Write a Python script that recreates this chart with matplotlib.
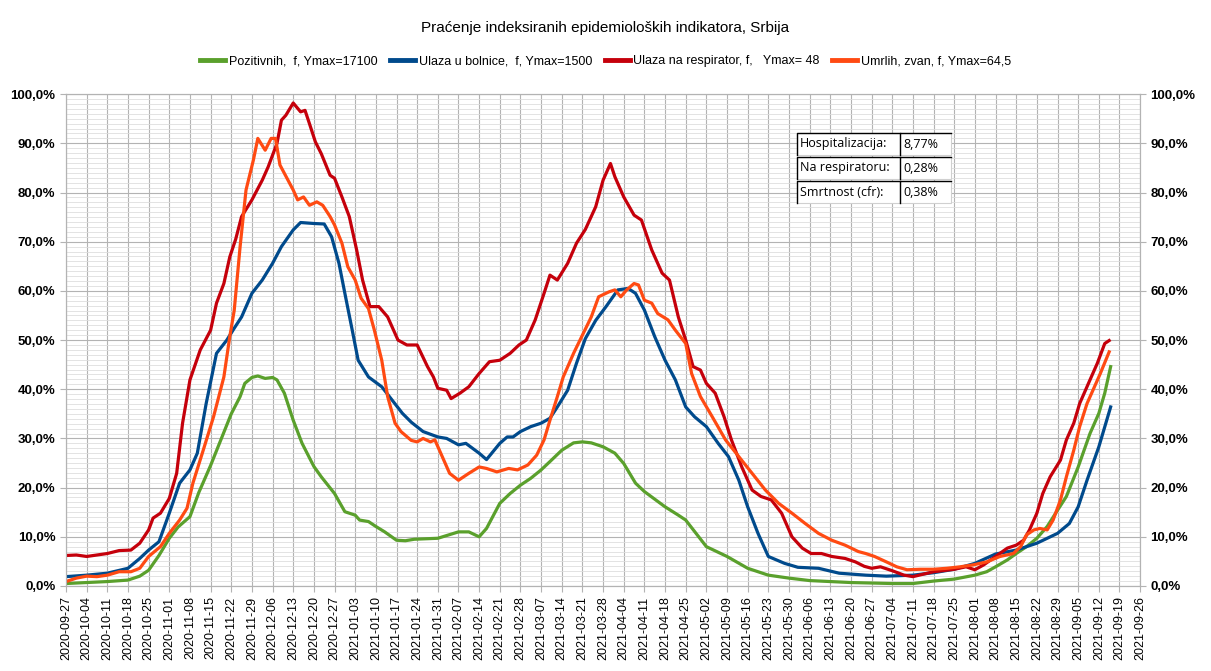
import numpy as np
import pandas as pd
import matplotlib
matplotlib.use("Agg")
import matplotlib.pyplot as plt
import matplotlib.dates as mdates
from matplotlib.ticker import FuncFormatter, MultipleLocator
from matplotlib.patches import Rectangle
from matplotlib.lines import Line2D

plt.rcParams['font.family'] = ['Liberation Sans', 'DejaVu Sans']

# -------------------------
# DATA (days after 2020-09-27, indexed values in %)
# -------------------------
start = pd.Timestamp("2020-09-27")

pos_days = [0, 7, 14, 21, 25, 28, 31.5, 35, 38, 42,
            45, 49, 52, 56, 59, 60.6, 63, 65, 67.5, 70,
            71.5, 74, 77, 80, 84, 86.5, 91, 94.5, 98, 99.5,
            102.5, 105, 108, 112, 115, 118, 126, 133, 136.5, 140,
            142.5, 147, 150.5, 154, 157.5, 161, 164, 168, 172, 175,
            178, 182, 186, 189, 193, 196, 203, 207.5, 210, 217,
            224, 231, 238, 245, 252, 259, 266, 280, 287, 294,
            301, 308, 312, 315, 319, 322, 325.5, 329, 332.5, 336,
            339, 343, 347, 350, 352, 354]
pos_vals = [0.5, 0.7, 0.9, 1.2, 2.0, 3.2, 6.2, 9.7, 12.0, 14.1,
            19.0, 24.5, 29.0, 35.0, 38.5, 41.2, 42.4, 42.7, 42.2, 42.4,
            41.9, 39.2, 33.7, 29.0, 24.3, 22.2, 18.8, 15.1, 14.4, 13.4,
            13.1, 12.1, 11.0, 9.3, 9.2, 9.5, 9.7, 11.0, 11.0, 10.0,
            11.7, 16.8, 18.8, 20.5, 21.9, 23.6, 25.3, 27.6, 29.1, 29.3,
            29.1, 28.3, 27.0, 24.9, 20.9, 19.2, 16.1, 14.4, 13.4, 8.0,
            6.0, 3.6, 2.2, 1.6, 1.1, 0.9, 0.7, 0.5, 0.5, 1.0,
            1.4, 2.2, 2.9, 3.9, 5.3, 6.6, 8.0, 9.7, 12.1, 15.4,
            18.2, 24.2, 31.0, 35.1, 39.2, 44.6]

hosp_days = [0, 7, 14, 21, 25, 28, 31.5, 35, 38.5, 42,
             44.5, 47.5, 51, 54.5, 57, 59.5, 63, 66.5, 70, 73,
             77, 79.5, 84, 87.5, 90, 92.5, 94.5, 97, 99, 102.5,
             107, 110.5, 114, 117, 121, 126, 129, 133, 135.5, 140,
             142.5, 147, 149.5, 151.5, 154, 157.5, 161, 164, 166.5, 170,
             173, 176, 179.5, 183, 187, 190.5, 193, 196, 199.5, 203,
             206.5, 210, 213, 217, 221, 224.5, 228, 231, 234.5, 238,
             243.5, 248, 255, 262, 271, 278, 287, 294, 301, 308,
             315, 322, 329, 336, 340, 343, 346, 350, 354]
hosp_vals = [1.9, 2.2, 2.6, 3.6, 5.6, 7.3, 9.0, 14.8, 20.9, 23.6,
             27.0, 37.1, 47.3, 50.0, 52.4, 54.7, 59.5, 62.2, 65.6, 69.0,
             72.4, 73.9, 73.7, 73.6, 71.0, 65.6, 59.5, 52.0, 45.9, 42.5,
             40.5, 37.8, 35.1, 33.3, 31.4, 30.3, 30.0, 28.7, 29.0, 27.0,
             25.7, 29.0, 30.3, 30.3, 31.4, 32.4, 33.1, 34.1, 36.4, 39.8,
             45.3, 50.3, 54.0, 56.8, 60.2, 60.5, 59.5, 56.1, 50.7, 45.9,
             41.9, 36.4, 34.4, 32.4, 29.0, 26.3, 21.5, 16.1, 10.7, 6.0,
             4.6, 3.8, 3.6, 2.6, 2.2, 2.0, 2.2, 2.7, 3.4, 4.6,
             6.5, 7.3, 8.7, 10.7, 12.7, 16.1, 21.5, 28.3, 36.4]

resp_days = [0, 3.5, 7, 10.5, 14, 18, 22, 25, 28, 29.5,
             32, 35, 37.5, 39.5, 42, 45.5, 49, 51, 53.5, 55.5,
             57.5, 59.5, 63, 66.5, 68.5, 71.5, 73, 74.5, 77, 79.5,
             81, 82.5, 84.5, 86.5, 89.5, 91, 93.5, 96, 98.5, 100.5,
             103, 106, 109, 112.5, 115.5, 119, 122.5, 124.5, 126, 129,
             130.5, 133.5, 136.5, 140, 143.5, 147, 150.5, 153.5, 156, 159,
             162, 164, 166.5, 170, 173, 176, 179.5, 182, 184.5, 186,
             189, 192.5, 195, 198.5, 202, 204.5, 207.5, 210, 212.5, 215,
             217, 220, 223, 225.5, 229, 232.5, 235.5, 239, 242.5, 246,
             249.5, 252.5, 256, 259.5, 264, 267.5, 270.5, 273, 276, 280,
             284, 287, 290.5, 294, 301, 305, 308, 311, 315, 319,
             322, 324.5, 326.5, 329, 331, 333.5, 337, 339, 341.5, 343.5,
             347, 349.5, 352, 353.5]
resp_vals = [6.2, 6.3, 6.0, 6.3, 6.6, 7.2, 7.3, 8.7, 11.4, 13.8,
             14.8, 17.8, 22.9, 33.1, 41.9, 48.0, 52.0, 57.5, 61.5, 66.9,
             70.5, 75.1, 78.5, 82.5, 85.2, 90.0, 94.7, 95.7, 98.2, 96.4,
             96.7, 94.0, 90.3, 87.9, 83.5, 82.9, 79.1, 75.1, 68.3, 62.2,
             56.8, 56.8, 54.7, 50.0, 49.0, 49.0, 44.6, 42.5, 40.2, 39.8,
             38.1, 39.2, 40.5, 43.2, 45.6, 45.9, 47.3, 49.0, 50.0, 54.1,
             59.5, 63.2, 62.2, 65.6, 69.7, 72.5, 77.1, 82.5, 85.9, 83.2,
             79.1, 75.4, 74.4, 68.3, 63.6, 62.2, 54.7, 50.0, 44.6, 43.9,
             41.2, 39.2, 34.4, 29.7, 24.2, 19.5, 18.2, 17.5, 14.8, 10.0,
             7.7, 6.6, 6.6, 6.0, 5.6, 4.9, 4.0, 3.6, 3.9, 3.1,
             2.2, 1.9, 2.4, 2.9, 3.4, 3.9, 3.3, 4.3, 6.0, 7.7,
             8.3, 9.3, 11.4, 14.8, 18.8, 22.2, 25.6, 29.7, 33.1, 37.1,
             41.9, 45.3, 49.3, 49.9]

death_days = [0, 1.5, 3.5, 7, 10.5, 14, 18, 22, 25, 28,
              32, 35, 38.5, 41, 43, 46.5, 50, 53.5, 55.5, 57,
              59, 61, 63.5, 65, 67.5, 69.5, 71, 72.5, 74, 77,
              78.5, 80.5, 82.5, 85, 87, 89.5, 91, 93.5, 95.5, 98,
              100, 102.5, 104.5, 107, 109, 111.5, 113.5, 117, 119, 121,
              123.5, 125, 127.5, 130, 133, 136.5, 140, 142.5, 146, 150,
              153, 156.5, 159.5, 162, 164, 166.5, 168.5, 172, 175, 178,
              180.5, 184, 186, 188, 190, 192.5, 194, 196, 198.5, 200.5,
              204, 206.5, 210, 212, 215, 219, 223.5, 228, 232.5, 237,
              241.5, 246, 250.5, 255, 259.5, 264, 268.5, 271, 274, 278,
              281.5, 285, 289.5, 294, 298.5, 303, 307.5, 312, 316.5, 321,
              323.5, 325.5, 328, 330, 332.5, 334.5, 337, 339, 341.5, 343.5,
              346, 348, 350.5, 353.5]
death_vals = [0.9, 1.2, 1.6, 2.0, 1.9, 2.2, 2.9, 2.9, 3.6, 6.0,
              8.0, 10.7, 13.4, 15.8, 20.9, 27.6, 34.4, 42.5, 50.7, 56.0,
              69.0, 80.5, 86.6, 91.0, 88.6, 91.0, 91.0, 85.6, 83.9, 80.5,
              78.5, 79.1, 77.4, 78.1, 77.4, 75.1, 73.4, 69.7, 64.9, 62.2,
              58.5, 56.4, 52.0, 45.9, 38.5, 33.1, 31.4, 29.6, 29.3, 30.0,
              29.3, 29.7, 26.3, 22.9, 21.5, 22.9, 24.2, 23.9, 23.2, 23.9,
              23.6, 24.6, 26.6, 29.7, 33.7, 38.5, 42.5, 47.3, 51.0, 54.7,
              58.8, 59.8, 60.2, 58.8, 60.2, 61.5, 61.2, 58.1, 57.5, 55.4,
              54.1, 52.0, 49.3, 43.2, 38.5, 34.4, 29.7, 26.3, 22.9, 19.5,
              16.8, 14.8, 12.7, 10.7, 9.3, 8.3, 7.0, 6.6, 6.0, 4.9,
              3.9, 3.3, 3.4, 3.4, 3.6, 3.9, 4.3, 4.9, 6.0, 6.6,
              8.0, 10.4, 11.4, 11.7, 11.4, 13.4, 17.5, 22.2, 27.6, 32.4,
              37.1, 39.8, 43.2, 47.6]

labels = ["Pozitivnih,  f, Ymax=17100",
          "Ulaza u bolnice,  f, Ymax=1500",
          "Ulaza na respirator, f,   Ymax= 48",
          "Umrlih, zvan, f, Ymax=64,5"]
colors = ["#5aa02c", "#004a8c", "#c5000b", "#ff4a12"]

table_rows = ["Hospitalizacija:", "Na respiratoru:", "Smrtnost (cfr):"]
table_vals = ["8,77%", "0,28%", "0,38%"]


def to_dates(days):
    return [start + pd.Timedelta(days=d) for d in days]


# -------------------------
# PLOT
# -------------------------
fig = plt.figure(figsize=(12.11, 6.71), dpi=100)
ax = fig.add_axes([0.0545, 0.1267, 0.887, 0.733])

series = [(pos_days, pos_vals), (hosp_days, hosp_vals),
          (resp_days, resp_vals), (death_days, death_vals)]
for (d, v), c, lab in zip(series, colors, labels):
    ax.plot(to_dates(d), v, color=c, lw=2.3, label=lab, zorder=3)

ax.set_ylim(0, 100)
ax.set_xlim(start, start + pd.Timedelta(days=364))

week_ticks = pd.date_range(start, periods=53, freq="7D")
ax.set_xticks(week_ticks)
ax.xaxis.set_major_formatter(mdates.DateFormatter("%Y-%m-%d"))
plt.setp(ax.get_xticklabels(), rotation=90, fontsize=9)

ax.yaxis.set_major_locator(MultipleLocator(10))
ax.yaxis.set_minor_locator(MultipleLocator(1))
pct = FuncFormatter(lambda v, p: f"{v:.1f}%".replace(".", ","))
ax.yaxis.set_major_formatter(pct)
for t in ax.get_yticklabels():
    t.set_fontweight("bold")
    t.set_fontsize(9.5)

ax.grid(which="major", axis="both", color="#b3b3b3", lw=0.8)
ax.grid(which="minor", axis="y", color="#dedede", lw=0.6)
ax.set_axisbelow(True)
ax.tick_params(which="minor", length=0)
ax.tick_params(which="major", length=4, color="#b3b3b3")
for s in ax.spines.values():
    s.set_color("#b3b3b3")

ax2 = ax.twinx()
ax2.set_ylim(0, 100)
ax2.yaxis.set_major_locator(MultipleLocator(10))
ax2.yaxis.set_major_formatter(pct)
for t in ax2.get_yticklabels():
    t.set_fontweight("bold")
    t.set_fontsize(9.5)
ax2.tick_params(length=4, color="#b3b3b3")
for s in ax2.spines.values():
    s.set_color("#b3b3b3")

fig.text(0.5, 0.958, "Praćenje indeksiranih epidemioloških indikatora, Srbija",
         ha="center", va="center", fontsize=11)

handles = [Line2D([], [], color=c, lw=3.5) for c in colors]
fig.legend(handles, labels, loc="center", bbox_to_anchor=(0.5, 0.909),
           ncol=4, frameon=False, fontsize=9, handlelength=2.0,
           handletextpad=0.3, columnspacing=1.0)

# info table
x0, x1, x2 = 797 / 1211, 900 / 1211, 951 / 1211
row_h = 22 / 671
tops = [133, 157, 181]
for top, name, val in zip(tops, table_rows, table_vals):
    yb = 1 - (top + 22) / 671
    for xa, xb, txt in [(x0, x1, name), (x1, x2, val)]:
        fig.patches.append(Rectangle((xa, yb), xb - xa, row_h, transform=fig.transFigure,
                                     facecolor="white", edgecolor="#d0d0d0", lw=0.8, zorder=5))
        fig.add_artist(Line2D([xa, xa, xb], [yb, yb + row_h, yb + row_h],
                              transform=fig.transFigure, color="black", lw=1.0, zorder=6))
        fig.text(xa + 3 / 1211, yb + row_h / 2, txt, ha="left", va="center",
                 fontsize=9, family=["Open Sans", "DejaVu Sans"], zorder=7)

fig.savefig("out.png", dpi=100)
